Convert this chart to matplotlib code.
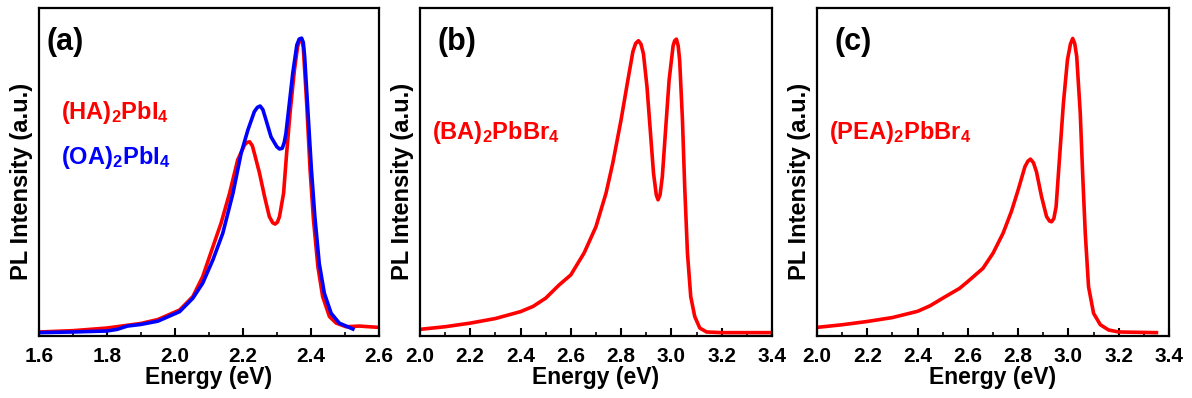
import matplotlib.pyplot as plt
from matplotlib.ticker import MultipleLocator, FormatStrFormatter

plt.rcParams['font.family'] = ['Liberation Sans', 'DejaVu Sans']
plt.rcParams['font.weight'] = 'bold'
plt.rcParams['mathtext.fontset'] = 'custom'
plt.rcParams['mathtext.bf'] = 'Liberation Sans:bold'
plt.rcParams['mathtext.rm'] = 'Liberation Sans:bold'
plt.rcParams['mathtext.default'] = 'bf'

# panel (a): (HA)2PbI4 and (OA)2PbI4
ha_energy = [1.60, 1.70, 1.80, 1.90, 1.95, 2.014, 2.053, 2.082, 2.112, 2.136, 2.161, 2.185,
             2.205, 2.212, 2.22, 2.228, 2.234, 2.249, 2.264, 2.278, 2.288, 2.295, 2.302, 2.308,
             2.32, 2.329, 2.339, 2.352, 2.361, 2.367, 2.373, 2.378, 2.388, 2.398, 2.408, 2.421,
             2.435, 2.455, 2.475, 2.504, 2.543, 2.60]
ha_pl = [0.012, 0.016, 0.024, 0.038, 0.05, 0.079, 0.12, 0.181, 0.272, 0.344, 0.435, 0.537,
         0.582, 0.59, 0.592, 0.58, 0.557, 0.497, 0.425, 0.364, 0.345, 0.341, 0.347, 0.364,
         0.435, 0.557, 0.679, 0.811, 0.88, 0.904, 0.905, 0.88, 0.709, 0.506, 0.354, 0.211,
         0.12, 0.059, 0.039, 0.028, 0.03, 0.026]

oa_energy = [1.60, 1.70, 1.80, 1.83, 1.86, 1.90, 1.95, 2.014, 2.053, 2.082, 2.112, 2.141,
             2.171, 2.195, 2.215, 2.234, 2.243, 2.251, 2.259, 2.267, 2.283, 2.30, 2.308, 2.316,
             2.322, 2.327, 2.337, 2.347, 2.359, 2.366, 2.373, 2.378, 2.382, 2.392, 2.402, 2.412,
             2.425, 2.44, 2.46, 2.484, 2.524]
oa_pl = [0.010, 0.012, 0.015, 0.02, 0.03, 0.035, 0.045, 0.074, 0.115, 0.161, 0.232, 0.313,
         0.435, 0.557, 0.628, 0.684, 0.697, 0.701, 0.69, 0.663, 0.607, 0.577, 0.57, 0.572,
         0.59, 0.618, 0.709, 0.801, 0.887, 0.905, 0.908, 0.895, 0.852, 0.679, 0.506, 0.364,
         0.221, 0.13, 0.069, 0.039, 0.021]

# panel (b): (BA)2PbBr4
ba_energy = [2.00, 2.10, 2.20, 2.30, 2.40, 2.45, 2.50, 2.553, 2.60, 2.653, 2.70, 2.74, 2.767,
             2.80, 2.827, 2.847, 2.858, 2.869, 2.879, 2.889, 2.903, 2.916, 2.929, 2.94, 2.947,
             2.955, 2.964, 2.977, 2.991, 3.007, 3.013, 3.02, 3.027, 3.033, 3.044, 3.053, 3.064,
             3.077, 3.093, 3.113, 3.14, 3.20, 3.30, 3.40]
ba_pl = [0.02, 0.028, 0.039, 0.053, 0.074, 0.09, 0.115, 0.155, 0.186, 0.253, 0.333, 0.435, 0.527,
         0.659, 0.78, 0.867, 0.892, 0.90, 0.89, 0.86, 0.76, 0.628, 0.496, 0.43, 0.415,
         0.43, 0.485, 0.628, 0.78, 0.885, 0.90, 0.905, 0.885, 0.84, 0.66, 0.455, 0.252,
         0.12, 0.059, 0.024, 0.012, 0.01, 0.01, 0.01]

# panel (c): (PEA)2PbBr4
pea_energy = [2.00, 2.10, 2.20, 2.30, 2.40, 2.45, 2.50, 2.567, 2.60, 2.66, 2.70, 2.74, 2.773,
              2.80, 2.827, 2.839, 2.849, 2.861, 2.873, 2.893, 2.913, 2.925, 2.933, 2.942, 2.951,
              2.964, 2.98, 2.996, 3.008, 3.017, 3.025, 3.033, 3.047, 3.057, 3.067, 3.08, 3.10,
              3.127, 3.16, 3.20, 3.35]
pea_pl = [0.026, 0.034, 0.044, 0.056, 0.075, 0.092, 0.115, 0.145, 0.166, 0.206, 0.252, 0.313, 0.379,
          0.445, 0.516, 0.533, 0.539, 0.528, 0.50, 0.425, 0.364, 0.35, 0.348, 0.358, 0.394,
          0.536, 0.709, 0.841, 0.89, 0.907, 0.892, 0.852, 0.68, 0.486, 0.313, 0.15, 0.069,
          0.034, 0.018, 0.012, 0.01]

fig = plt.figure(figsize=(11.92, 3.98), dpi=100)
ax_a = fig.add_axes([0.0327, 0.156, 0.285, 0.824])
ax_b = fig.add_axes([0.3523, 0.156, 0.2953, 0.824])
ax_c = fig.add_axes([0.6854, 0.156, 0.2953, 0.824])

ax_a.plot(ha_energy, ha_pl, color='#ff0000', lw=2.6)
ax_a.plot(oa_energy, oa_pl, color='#0000ff', lw=2.6)
ax_b.plot(ba_energy, ba_pl, color='#ff0000', lw=2.6)
ax_c.plot(pea_energy, pea_pl, color='#ff0000', lw=2.6)

ax_a.set_xlim(1.6, 2.6)
ax_b.set_xlim(2.0, 3.4)
ax_c.set_xlim(2.0, 3.4)

for ax in (ax_a, ax_b, ax_c):
    ax.set_ylim(0, 1)
    ax.set_yticks([])
    ax.xaxis.set_major_locator(MultipleLocator(0.2))
    ax.xaxis.set_minor_locator(MultipleLocator(0.1))
    ax.xaxis.set_major_formatter(FormatStrFormatter('%.1f'))
    ax.tick_params(axis='x', which='major', direction='in', length=6, width=1.5,
                   labelsize=15, pad=8)
    ax.tick_params(axis='x', which='minor', direction='in', length=3, width=1.2)
    for lab in ax.get_xticklabels():
        lab.set_fontweight('bold')
    for sp in ax.spines.values():
        sp.set_linewidth(1.6)
    ax.set_xlabel('Energy (eV)', fontsize=16.5, fontweight='bold', labelpad=0)
    ax.set_ylabel('PL Intensity (a.u.)', fontsize=17, fontweight='bold')
    ax.yaxis.set_label_coords(-0.018, 0.47)

ax_a.text(0.022, 0.895, '(a)', transform=ax_a.transAxes, fontsize=22, fontweight='bold', va='center')
ax_b.text(0.05, 0.895, '(b)', transform=ax_b.transAxes, fontsize=22, fontweight='bold', va='center')
ax_c.text(0.05, 0.895, '(c)', transform=ax_c.transAxes, fontsize=22, fontweight='bold', va='center')

ax_a.text(0.065, 0.68, r'(HA)$_2$PbI$_4$', transform=ax_a.transAxes, fontsize=17,
          fontweight='bold', color='#ff0000', va='center')
ax_a.text(0.065, 0.545, r'(OA)$_2$PbI$_4$', transform=ax_a.transAxes, fontsize=17,
          fontweight='bold', color='#0000ff', va='center')
ax_b.text(0.035, 0.62, r'(BA)$_2$PbBr$_4$', transform=ax_b.transAxes, fontsize=17,
          fontweight='bold', color='#ff0000', va='center')
ax_c.text(0.035, 0.62, r'(PEA)$_2$PbBr$_4$', transform=ax_c.transAxes, fontsize=17,
          fontweight='bold', color='#ff0000', va='center')

fig.savefig('out.png', dpi=100)
